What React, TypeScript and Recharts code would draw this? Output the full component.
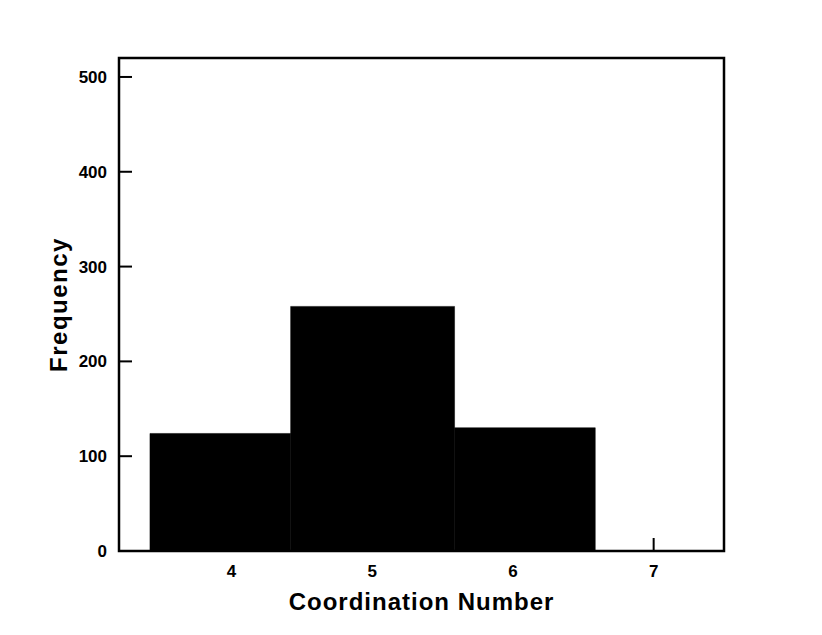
import { ComposedChart, XAxis, YAxis, ReferenceArea, Label } from "recharts"

// histogram bins (edges) and counts
const binStarts = [3.42, 4.42, 5.585]
const binEnds = [4.42, 5.585, 6.585]
const frequencies = [124, 258, 130]

const xTicks = [4, 5, 6, 7]
const yTicks = [0, 100, 200, 300, 400, 500]
const xDomain = [3.2, 7.5]
const yDomain = [0, 520]

const font = "'Liberation Sans', Arial, sans-serif"

function YTick({ x, y, payload }: any) {
  return (
    <g>
      {payload.value !== 0 && <line x1={x} x2={x + 13} y1={y} y2={y} stroke="#000" strokeWidth={2} />}
      <text
        x={x - 12}
        y={y}
        dy={6}
        textAnchor="end"
        fontFamily={font}
        fontWeight="bold"
        fontSize={17}
        fill="#000"
      >
        {payload.value}
      </text>
    </g>
  )
}

function XTick({ x, y, payload }: any) {
  return (
    <g>
      <line x1={x} x2={x} y1={y} y2={y - 13} stroke="#000" strokeWidth={2} />
      <text
        x={x}
        y={y}
        dy={26}
        textAnchor="middle"
        fontFamily={font}
        fontWeight="bold"
        fontSize={17}
        fill="#000"
      >
        {payload.value}
      </text>
    </g>
  )
}

export default function App() {
  return (
    <ComposedChart
      width={822}
      height={635}
      data={[]}
      margin={{ top: 50, right: 106, left: 51, bottom: 32 }}
    >
      <XAxis
        type="number"
        dataKey="x"
        domain={xDomain}
        ticks={xTicks}
        axisLine={false}
        tickLine={false}
        tickSize={0}
        tickMargin={0}
        tick={<XTick />}
        height={60}
        allowDataOverflow
      >
        <Label
          value="Coordination Number"
          position="insideBottom"
          offset={1}
          style={{ fontFamily: font, fontWeight: "bold", fontSize: 24, letterSpacing: 1, fill: "#000" }}
        />
      </XAxis>
      <YAxis
        type="number"
        domain={yDomain}
        ticks={yTicks}
        axisLine={false}
        tickLine={false}
        tickSize={0}
        tickMargin={0}
        tick={<YTick />}
        width={60}
        allowDataOverflow
      >
        <Label
          value="Frequency"
          angle={-90}
          position="insideLeft"
          offset={0}
          dx={-1}
          style={{ textAnchor: "middle", fontFamily: font, fontWeight: "bold", fontSize: 24, letterSpacing: 1.5, fill: "#000" }}
        />
      </YAxis>
      {frequencies.map((f, i) => (
        <ReferenceArea
          key={i}
          x1={binStarts[i]}
          x2={binEnds[i]}
          y1={0}
          y2={f}
          fill="#000"
          fillOpacity={1}
          stroke="#000"
          strokeWidth={0.5}
        />
      ))}
      <ReferenceArea
        x1={xDomain[0]}
        x2={xDomain[1]}
        y1={yDomain[0]}
        y2={yDomain[1]}
        fill="none"
        stroke="#000"
        strokeWidth={2.5}
      />
    </ComposedChart>
  )
}
